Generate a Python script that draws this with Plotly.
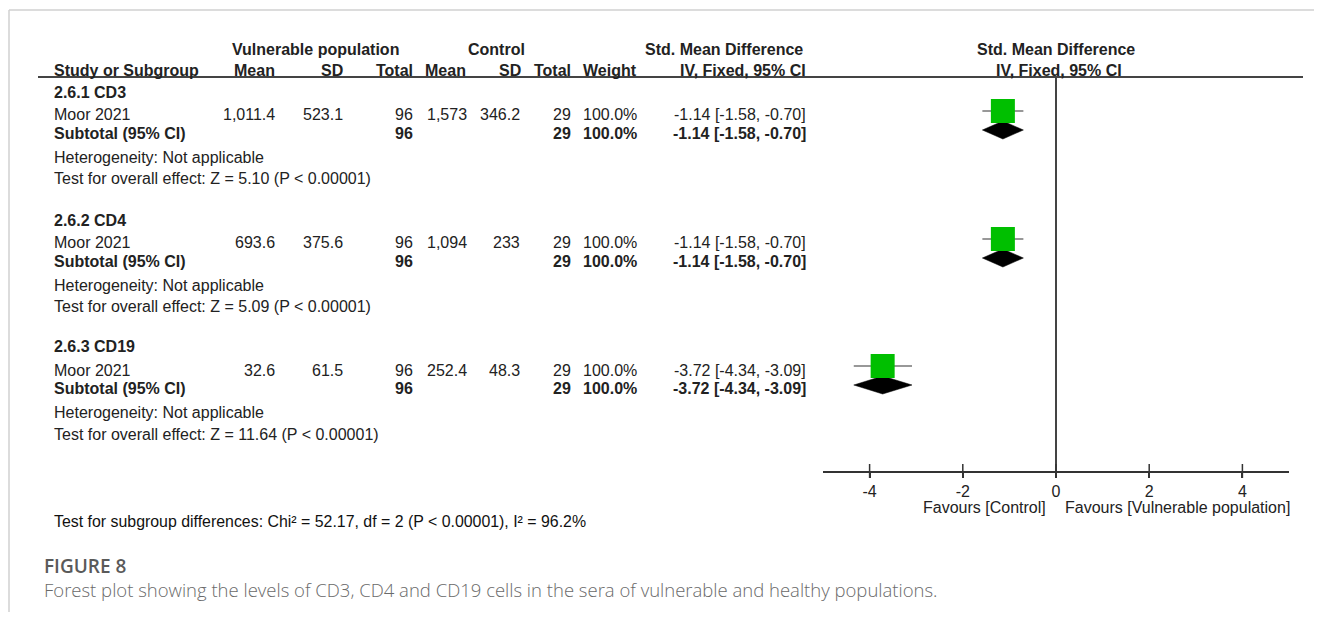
import plotly.graph_objects as go

# ---------------- data ----------------
subgroups = ["2.6.1 CD3", "2.6.2 CD4", "2.6.3 CD19"]
studies = ["Moor 2021", "Moor 2021", "Moor 2021"]
vuln_mean = [1011.4, 693.6, 32.6]
vuln_sd = [523.1, 375.6, 61.5]
vuln_n = [96, 96, 96]
ctrl_mean = [1573, 1094, 252.4]
ctrl_sd = [346.2, 233, 48.3]
ctrl_n = [29, 29, 29]
weights = [100.0, 100.0, 100.0]
smd = [-1.14, -1.14, -3.72]
ci_lo = [-1.58, -1.58, -4.34]
ci_hi = [-0.70, -0.70, -3.09]
z_values = [5.10, 5.09, 11.64]
x_ticks = [-4, -2, 0, 2, 4]
chi2, df, p_text, i2 = 52.17, 2, "P < 0.00001", 96.2

# ---------------- layout helpers ----------------
OFF = 8                      # page body margin
W, H = 1322 - OFF, 621 - OFF
FONT = "Liberation Sans, Arial, sans-serif"
TXT = "#222222"
FS = 16


def px(x):
    return (x - OFF) / W


def py(y):
    return 1 - (y - OFF) / H


annotations = []


def text(x, y, s, anchor="left", bold=False, size=FS, color=TXT, family=FONT, weight=None):
    f = dict(family=family, size=size, color=color)
    if weight is not None:
        f["weight"] = weight
    elif bold:
        f["weight"] = "bold"
    annotations.append(dict(
        x=px(x), y=py(y), xref="paper", yref="paper", text=s, showarrow=False,
        xanchor=anchor, yanchor="middle", font=f))


# header
text(315, 49, "Vulnerable population", "center", True)
text(496, 49, "Control", "center", True)
text(805, 49, "Std. Mean Difference", "right", True)
text(1056, 49, "Std. Mean Difference", "center", True)
hdr_y = 71
text(52, hdr_y, "Study or Subgroup", "left", True)
text(277, hdr_y, "Mean", "right", True)
text(345, hdr_y, "SD", "right", True)
text(415, hdr_y, "Total", "right", True)
text(468, hdr_y, "Mean", "right", True)
text(523, hdr_y, "SD", "right", True)
text(573, hdr_y, "Total", "right", True)
text(639, hdr_y, "Weight", "right", True)
text(808, hdr_y, "IV, Fixed, 95% CI", "right", True)
text(1059, hdr_y, "IV, Fixed, 95% CI", "center", True)

group_base = [92, 220, 347]
OFF_STUDY, OFF_SUB, OFF_HET, OFF_TEST = 23, 41, 65, 87

sq_y, dia_y = [], []
for i, g in enumerate(subgroups):
    b = group_base[i]
    ci_str = f"{smd[i]:.2f} [{ci_lo[i]:.2f}, {ci_hi[i]:.2f}]"
    text(52, b, g, "left", True)
    ys = b + OFF_STUDY
    text(52, ys, studies[i])
    text(277, ys, format(vuln_mean[i], ",g"), "right")
    text(345, ys, format(vuln_sd[i], ",g"), "right")
    text(415, ys, str(vuln_n[i]), "right")
    text(469, ys, format(ctrl_mean[i], ",g"), "right")
    text(522, ys, format(ctrl_sd[i], ",g"), "right")
    text(573, ys, str(ctrl_n[i]), "right")
    text(639, ys, f"{weights[i]:.1f}%", "right")
    text(808, ys, ci_str, "right")
    yb = b + OFF_SUB
    text(52, yb, "Subtotal (95% CI)", "left", True)
    text(415, yb, str(vuln_n[i]), "right", True)
    text(573, yb, str(ctrl_n[i]), "right", True)
    text(639, yb, f"{weights[i]:.1f}%", "right", True)
    text(808, yb, ci_str, "right", True)
    text(52, b + OFF_HET, "Heterogeneity: Not applicable")
    text(52, b + OFF_TEST, f"Test for overall effect: Z = {z_values[i]:.2f} (P < 0.00001)")
    sq_y.append(ys - 4)
    dia_y.append(yb - 3)

text(52, 521, f"Test for subgroup differences: Chi\u00b2 = {chi2:.2f}, df = {df} ({p_text}), I\u00b2 = {i2:.1f}%",
     "left", size=15.9, color="#111111")
text(1048, 507, "Favours [Control]", "right")
text(1063, 507, "Favours [Vulnerable population]", "left")
text(42, 566, "FIGURE 8", "left", size=19, color="#5a5a5a", family="Open Sans, Noto Sans, sans-serif", weight=600)
text(42, 589, "Forest plot showing the levels of CD3, CD4 and CD19 cells in the sera of vulnerable and healthy populations.",
     "left", size=18.5, color="#6a6a6a", family="Open Sans, Noto Sans, sans-serif", weight=300)

# ---------------- figure ----------------
fig = go.Figure()

AX_TOP, AX_BOT = 77, 471

# diamonds
for i in range(len(smd)):
    fig.add_trace(go.Scatter(
        x=[ci_lo[i], smd[i], ci_hi[i], smd[i], ci_lo[i]],
        y=[dia_y[i], dia_y[i] - 9, dia_y[i], dia_y[i] + 9, dia_y[i]],
        mode="lines", fill="toself", fillcolor="black", line=dict(color="black", width=0.5),
        hoverinfo="skip", showlegend=False))

# CI whiskers
for i in range(len(smd)):
    fig.add_trace(go.Scatter(
        x=[ci_lo[i], ci_hi[i]], y=[sq_y[i], sq_y[i]], mode="lines",
        line=dict(color="#333333", width=1.2), hoverinfo="skip", showlegend=False))

# squares
fig.add_trace(go.Scatter(
    x=smd, y=sq_y, mode="markers",
    marker=dict(symbol="square", size=24, color="#00bf00", line=dict(width=0)),
    showlegend=False, cliponaxis=False))

# upper half of tick marks
fig.add_trace(go.Scatter(
    x=x_ticks, y=[AX_BOT] * len(x_ticks), mode="markers",
    marker=dict(symbol="line-ns", size=10, line=dict(color="#333333", width=1.5)),
    hoverinfo="skip", showlegend=False, cliponaxis=False))

fig.update_layout(
    width=W, height=H, margin=dict(l=0, r=0, t=0, b=0),
    paper_bgcolor="white", plot_bgcolor="white",
    annotations=annotations,
    xaxis=dict(domain=[px(823), px(1289)], range=[-5, 5], tickvals=x_ticks,
               ticktext=[str(t) for t in x_ticks],
               showgrid=False, zeroline=True, zerolinecolor="#444444", zerolinewidth=1.5,
               showline=True, linecolor="#333333", linewidth=1.5,
               ticks="outside", ticklen=5, tickwidth=1.5, tickcolor="#333333",
               tickfont=dict(family=FONT, size=FS, color=TXT)),
    yaxis=dict(domain=[py(AX_BOT), py(AX_TOP)], range=[AX_BOT, AX_TOP], visible=False),
    shapes=[
        dict(type="line", xref="paper", yref="paper", x0=px(9), x1=1, y0=py(10), y1=py(10),
             line=dict(color="#d0d0d0", width=1.5)),
        dict(type="line", xref="paper", yref="paper", x0=px(9), x1=px(9), y0=py(10), y1=py(612),
             line=dict(color="#d0d0d0", width=1.5)),
        dict(type="line", xref="paper", yref="paper", x0=px(38), x1=px(1303), y0=py(77), y1=py(77),
             line=dict(color="#444444", width=2)),
    ],
)

fig.write_html("out.html")
